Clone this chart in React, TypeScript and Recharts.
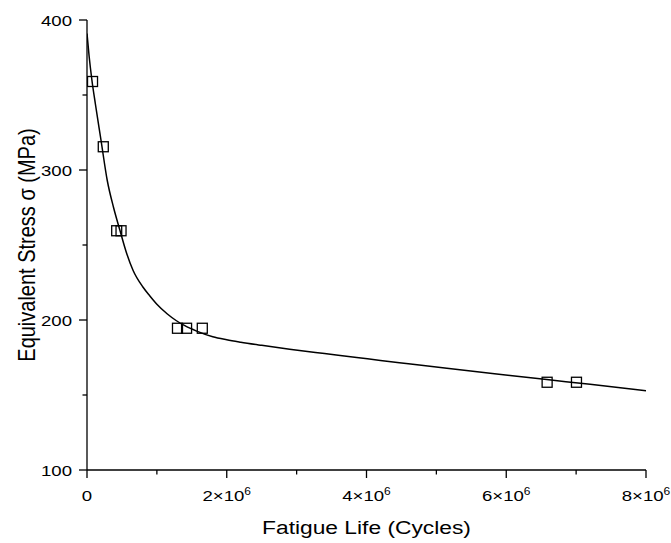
import { ComposedChart, Line, Scatter, XAxis, YAxis, Label } from "recharts";

// fitted S-N curve (cycles, MPa)
const curveLife = [
  0, 0.03e6, 0.07e6, 0.12e6, 0.2e6, 0.29e6, 0.38e6, 0.47e6, 0.56e6, 0.66e6, 0.8e6, 0.9e6, 1.0e6,
  1.15e6, 1.28e6, 1.4e6, 1.57e6, 1.8e6, 2.0e6, 2.2e6, 2.5e6, 2.9e6, 3.4e6, 3.86e6, 4.2e6, 4.6e6,
  5.15e6, 5.8e6, 6.58e6, 7.2e6, 8.0e6,
];
const curveStress = [
  391, 376, 360, 344, 320, 293, 275, 260, 245.5, 233, 222, 216, 210.5,
  204, 199.5, 196.2, 192.6, 188.8, 186.8, 185.2, 183.1, 180.5, 177.6, 175, 173, 170.8,
  167.8, 164.4, 160.3, 157.1, 152.9,
];

// test results
const testLife = [0.079e6, 0.233e6, 0.425e6, 0.487e6, 1.295e6, 1.425e6, 1.65e6, 6.585e6, 7.005e6];
const testStress = [359, 315.5, 259.5, 259.5, 194.5, 194.5, 194.5, 158.5, 158.5];

const xTicks = [0, 1e6, 2e6, 3e6, 4e6, 5e6, 6e6, 7e6, 8e6];
const yTicks = [100, 150, 200, 250, 300, 350, 400];

const curve = curveLife.map((x, i) => ({ x, y: curveStress[i] }));
const tests = testLife.map((x, i) => ({ x, y: testStress[i] }));

const FONT = "'Liberation Sans', Arial, sans-serif";
const STRETCH = 1.2; // source image is stretched horizontally

function XTick({ x, y, payload }: any) {
  const v = payload.value as number;
  const major = v % 2e6 === 0;
  const m = v / 1e6;
  return (
    <g>
      <line x1={x} x2={x} y1={y} y2={y + (major ? 8 : 4.5)} stroke="#000" strokeWidth={1.3} />
      {major && (
        <text
          transform={`translate(${x},${y + 31}) scale(${STRETCH},1)`}
          textAnchor="middle"
          fontFamily={FONT}
          fontSize={15.5}
          fill="#000"
        >
          {m === 0 ? (
            "0"
          ) : (
            <>
              {`${m}×10`}
              <tspan dy={-6} fontSize={10}>6</tspan>
            </>
          )}
        </text>
      )}
    </g>
  );
}

function YTick({ x, y, payload }: any) {
  const v = payload.value as number;
  const major = v % 100 === 0;
  return (
    <g>
      <line x1={x - (major ? 8 : 4.5)} x2={x} y1={y} y2={y} stroke="#000" strokeWidth={1.3} />
      {major && (
        <text
          transform={`translate(${x - 15},${y + 5.5}) scale(${STRETCH},1)`}
          textAnchor="end"
          fontFamily={FONT}
          fontSize={15.5}
          fill="#000"
        >
          {v}
        </text>
      )}
    </g>
  );
}

function XTitle({ viewBox }: any) {
  const cx = viewBox ? viewBox.x + viewBox.width / 2 : 367;
  const top = viewBox ? viewBox.y : 470;
  return (
    <text
      transform={`translate(${cx},${top + 64}) scale(${STRETCH},1)`}
      textAnchor="middle"
      fontFamily={FONT}
      fontSize={19}
      fill="#000"
    >
      Fatigue Life (Cycles)
    </text>
  );
}

function YTitle({ viewBox }: any) {
  const cy = viewBox ? viewBox.y + viewBox.height / 2 : 245;
  return (
    <text
      transform={`translate(35,${cy}) scale(${STRETCH},1) rotate(-90)`}
      textAnchor="middle"
      fontFamily={FONT}
      fontSize={20}
      fill="#000"
    >
      Equivalent Stress σ (MPa)
    </text>
  );
}

function Square({ cx, cy }: any) {
  return <rect x={cx - 5} y={cy - 5} width={10} height={10} fill="none" stroke="#000" strokeWidth={1.3} />;
}

export default function App() {
  return (
    <div style={{ position: "absolute", left: 0, top: 0, width: 671, height: 543, background: "#fff" }}>
      <ComposedChart width={671} height={543} margin={{ top: 20, right: 25, bottom: 13, left: 27 }}>
        <XAxis
          type="number"
          dataKey="x"
          domain={[0, 8e6]}
          ticks={xTicks}
          interval={0}
          allowDataOverflow
          height={60}
          tickSize={0}
          tickMargin={0}
          tickLine={false}
          tick={<XTick />}
          axisLine={{ stroke: "#000", strokeWidth: 1.3 }}
        >
          <Label content={<XTitle />} />
        </XAxis>
        <YAxis
          type="number"
          dataKey="y"
          domain={[100, 400]}
          ticks={yTicks}
          interval={0}
          allowDataOverflow
          width={60}
          tickSize={0}
          tickMargin={0}
          tickLine={false}
          tick={<YTick />}
          axisLine={{ stroke: "#000", strokeWidth: 1.3 }}
        >
          <Label content={<YTitle />} />
        </YAxis>
        <Line
          data={curve}
          dataKey="y"
          type="monotone"
          stroke="#000"
          strokeWidth={1.5}
          dot={false}
          activeDot={false}
          isAnimationActive={false}
        />
        <Scatter data={tests} dataKey="y" shape={<Square />} isAnimationActive={false} />
      </ComposedChart>
    </div>
  );
}
